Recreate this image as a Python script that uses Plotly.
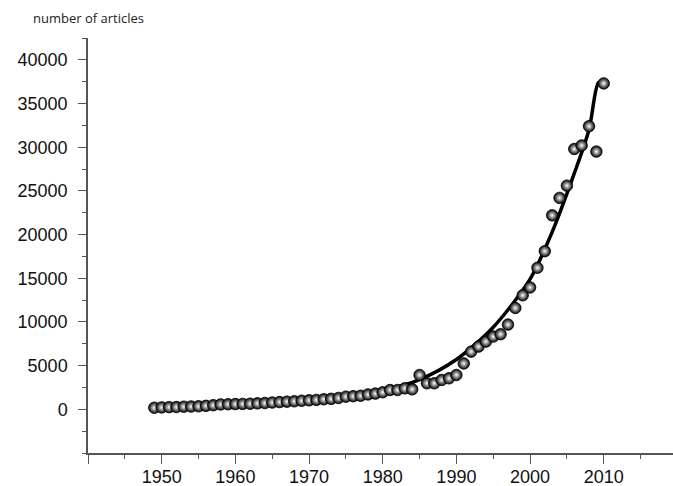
import plotly.graph_objects as go

# ---- data ----
years = list(range(1949, 2011))
articles = [
    180, 220, 250, 260, 300, 320, 350, 400, 470, 560,      # 1949-1958
    580, 600, 620, 640, 680, 720, 780, 830, 880, 920,      # 1959-1968
    980, 1030, 1080, 1150, 1200, 1300, 1450, 1500, 1550, 1700,  # 1969-1978
    1800, 1950, 2210, 2210, 2400, 2290, 3930, 2980, 2980, 3360,  # 1979-1988
    3550, 3930, 5250, 6600, 7180, 7750, 8330, 8600, 9700, 11600,  # 1989-1998
    13050, 13950, 16200, 18100, 22200, 24200, 25600, 29800, 30200, 32400,  # 1999-2008
    29500, 37300,  # 2009-2010
]

fit_years = [1949, 1955, 1960, 1965, 1970, 1975, 1980, 1985, 1990, 1995, 2000, 2003, 2006, 2008, 2009.3, 2010]
fit_values = [120, 200, 320, 500, 800, 1300, 2100, 3400, 5700, 9400, 14900, 20300, 27000, 32000, 37400, 37300]

x_tickvals = [1940, 1950, 1960, 1970, 1980, 1990, 2000, 2010]
x_ticktext = ["", "1950", "1960", "1970", "1980", "1990", "2000", "2010"]
y_tickvals = [0, 5000, 10000, 15000, 20000, 25000, 30000, 35000, 40000]
y_ticktext = [str(v) for v in y_tickvals]

fig = go.Figure()

fig.add_trace(go.Scatter(
    x=fit_years, y=fit_values, mode="lines",
    line=dict(color="black", width=3.5, shape="spline", smoothing=0.8),
    hoverinfo="skip", showlegend=False,
))

fig.add_trace(go.Scatter(
    x=years, y=articles, mode="markers",
    marker=dict(size=11.5, color="#000000",
                gradient=dict(type="radial", color="#ffffff"),
                line=dict(color="#000000", width=0.8)),
    showlegend=False,
))

axis_font = dict(family="Liberation Sans, Arial, sans-serif", size=18, color="#111111")

fig.update_layout(
    width=673, height=486,
    margin=dict(l=88, r=0, t=38, b=33, autoexpand=False),
    paper_bgcolor="white", plot_bgcolor="white",
    xaxis=dict(
        range=[1940, 2019.4], showgrid=False, zeroline=False, automargin=False,
        showline=True, linecolor="#555555", linewidth=1.5,
        tickmode="array", tickvals=x_tickvals, ticktext=x_ticktext,
        ticks="outside", ticklen=9, tickwidth=1.2, tickcolor="#555555",
        tickfont=axis_font, ticklabelstandoff=-2,
        minor=dict(dtick=5, tick0=1945, ticks="outside", ticklen=4, tickwidth=1.2, tickcolor="#555555", showgrid=False),
    ),
    yaxis=dict(
        range=[-5000, 42500], showgrid=False, zeroline=False, automargin=False,
        showline=True, linecolor="#555555", linewidth=1.5,
        tickmode="array", tickvals=y_tickvals, ticktext=y_ticktext,
        ticks="outside", ticklen=8, tickwidth=1.2, tickcolor="#555555",
        tickfont=axis_font, ticklabelstandoff=7,
        minor=dict(dtick=2500, tick0=-2500, ticks="outside", ticklen=4, tickwidth=1.2, tickcolor="#555555", showgrid=False),
    ),
    annotations=[dict(
        text="number of articles", xref="paper", yref="paper",
        x=-88/585, y=1 + 20/415, xanchor="left", yanchor="middle",
        xshift=31, showarrow=False,
        font=dict(family="Open Sans, sans-serif", size=13, color="#222222"),
    )],
)

fig.write_html("out.html", config={"displayModeBar": False},
               post_script="document.body.style.margin='0';document.body.style.overflow='hidden';")
